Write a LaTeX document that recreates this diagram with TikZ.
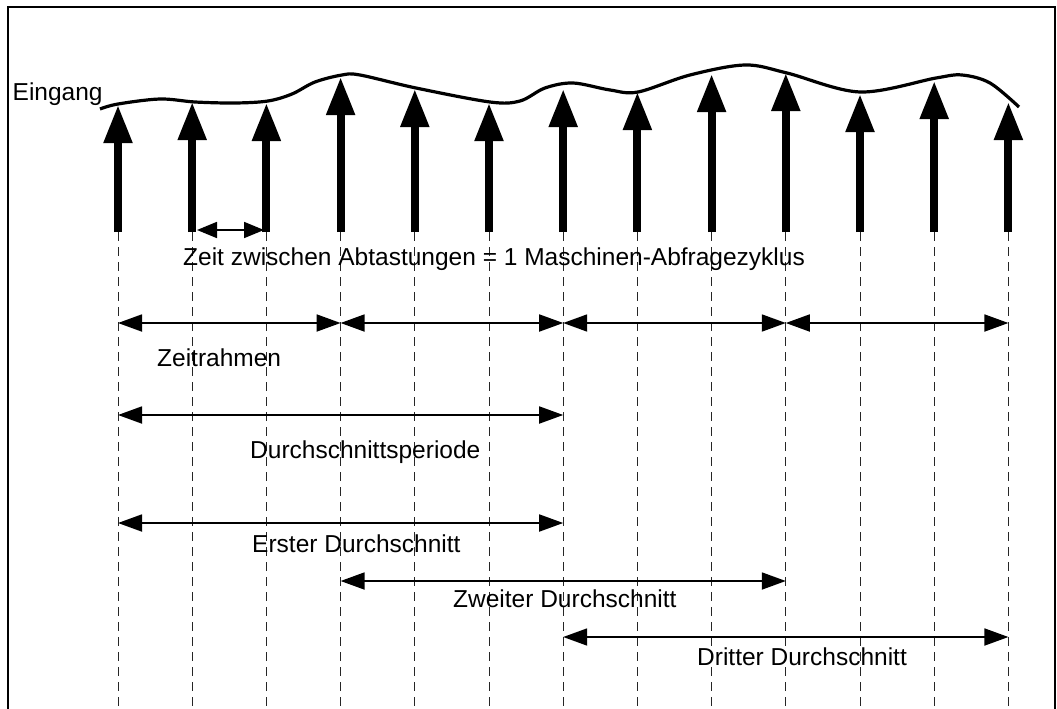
\documentclass[tikz,border=0pt]{standalone}
\usepackage{fontspec}
\setmainfont{Liberation Sans}
\usetikzlibrary{arrows.meta}
\begin{document}
\begin{tikzpicture}[x=1pt,y=-1pt,
  sample/.style={line width=8pt, -{Triangle[length=38pt,width=27pt]}},
  guide/.style={line width=0.9pt, black!85, dash pattern=on 9pt off 6pt},
  span/.style={line width=1.8pt, {Triangle[length=24pt,width=17pt]}-{Triangle[length=24pt,width=17pt]}},
  smallspan/.style={line width=1.8pt, {Triangle[length=20pt,width=16pt]}-{Triangle[length=20pt,width=16pt]}},
  lbl/.style={anchor=base west, inner sep=0pt, font=\fontsize{24.5}{28}\selectfont},
  signal/.style={line width=3.2pt, line cap=butt},
  frame/.style={line width=2pt}
]
\useasboundingbox (0,0) rectangle (1057,709);
\clip (0,0) rectangle (1057,709);
\draw[frame] (8,720) -- (8,7) -- (1055,7) -- (1055,720);

\foreach \i/\t in {0/105,1/102,2/103,3/77,4/89,5/103,6/89,7/92,8/74,9/73,10/94,11/81,12/102} {
  \pgfmathsetmacro\xx{118+74.2*\i}
  \coordinate (s\i) at (\xx,232);
  \coordinate (t\i) at (\xx,\t);
  \coordinate (d\i) at (\xx,712);
}
\foreach \i in {0,...,12} {
  \draw[guide] (s\i) -- (d\i);
}

% input signal
\draw[signal] plot[smooth, tension=0.55] coordinates {(100,109) (118,104) (160,99) (195,102) (235,103) (268,101) (292,94) (315,82) (342,75) (360,75) (416,88) (490,102) (520,101) (545,88) (573,83) (610,90) (638,92) (690,75) (745,65) (787,73) (860,92) (936,78) (962,75) (990,83) (1019,107)};

\foreach \i in {0,...,12} {
  \draw[sample] (s\i) -- (t\i);
}

% small span between samples
\coordinate (ma) at (197,230);
\coordinate (mb) at (264,230);
\draw[smallspan] (ma) -- (mb);

% Zeitrahmen row
\coordinate (z0) at (s0 |- 0,323);
\coordinate (z3) at (s3 |- 0,323);
\coordinate (z6) at (s6 |- 0,323);
\coordinate (z9) at (s9 |- 0,323);
\coordinate (z12) at (s12 |- 0,323);
\draw[span] (z0) -- (z3);
\draw[span] (z3) -- (z6);
\draw[span] (z6) -- (z9);
\draw[span] (z9) -- (z12);

% Durchschnittsperiode
\coordinate (p0) at (s0 |- 0,415);
\coordinate (p6) at (s6 |- 0,415);
\draw[span] (p0) -- (p6);

% averages
\coordinate (a0) at (s0 |- 0,523);
\coordinate (a6) at (s6 |- 0,523);
\draw[span] (a0) -- (a6);
\coordinate (b3) at (s3 |- 0,581);
\coordinate (b9) at (s9 |- 0,581);
\draw[span] (b3) -- (b9);
\coordinate (c6) at (s6 |- 0,637);
\coordinate (c12) at (s12 |- 0,637);
\draw[span] (c6) -- (c12);

% labels
\node[lbl] (eingang) at (12.5,100) {Eingang};
\node[lbl] (zeit) at (183,265) {Zeit zwischen Abtastungen = 1 Maschinen-Abfragezyklus};
\node[lbl] (zr) at (157,366) {Zeitrahmen};
\node[lbl] (dp) at (250,458) {Durchschnittsperiode};
\node[lbl] (e1) at (252,552) {Erster Durchschnitt};
\node[lbl] (e2) at (453,607) {Zweiter Durchschnitt};
\node[lbl] (e3) at (697,665) {Dritter Durchschnitt};
\end{tikzpicture}
\end{document}
